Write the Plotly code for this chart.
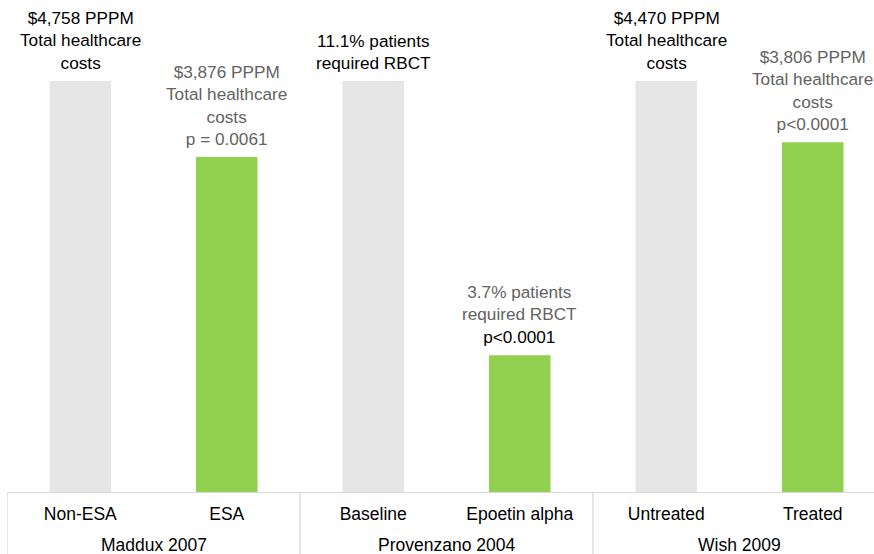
import plotly.graph_objects as go

# Data (bar heights relative to each study's comparator = 100)
categories = ["Non-ESA", "ESA", "Baseline", "Epoetin alpha", "Untreated", "Treated"]
groups = ["Maddux 2007", "Provenzano 2004", "Wish 2009"]
values = [100, 81.5, 100, 33.3, 100, 85.1]
bar_labels = [
    "$4,758 PPPM<br>Total healthcare<br>costs",
    "$3,876 PPPM<br>Total healthcare<br>costs<br>p = 0.0061",
    "11.1% patients<br>required RBCT",
    "3.7% patients<br>required RBCT<br><span style='color:#000000'>p<0.0001</span>",
    "$4,470 PPPM<br>Total healthcare<br>costs",
    "$3,806 PPPM<br>Total healthcare<br>costs<br>p<0.0001",
]

GREY = "#e6e6e6"
GREEN = "#92d050"
bar_colors = [GREY, GREEN, GREY, GREEN, GREY, GREEN]
label_colors = ["#000000", "#636363", "#000000", "#636363", "#000000", "#636363"]
LINE = "#d9d9d9"
FONT = "Liberation Sans, Arial, sans-serif"
FS_BAR = 17.2
FS_AX = 17.5

fig = go.Figure()
fig.add_trace(go.Bar(
    x=categories, y=values,
    marker=dict(color=bar_colors, line=dict(width=0)),
    width=0.42, hoverinfo="skip",
))

annotations = []
for c, v, t, col in zip(categories, values, bar_labels, label_colors):
    annotations.append(dict(
        x=c, y=v, xref="x", yref="y", text=t, showarrow=False,
        yanchor="bottom", xanchor="center", yshift=6,
        font=dict(size=FS_BAR, color=col, family=FONT),
    ))
for i, g in enumerate(groups):
    annotations.append(dict(
        x=2 * i + 0.5, y=-0.108, xref="x", yref="paper", text=g,
        showarrow=False, yanchor="middle", xanchor="center",
        font=dict(size=FS_AX, color="#000000", family=FONT),
    ))

shapes = []
for i in range(len(groups)):
    shapes.append(dict(
        type="line", xref="x", yref="paper",
        x0=2 * i - 0.5, x1=2 * i - 0.5, y0=0, y1=-0.2,
        line=dict(color=LINE, width=1.3),
    ))

fig.update_layout(
    width=874, height=554,
    margin=dict(l=7, r=0, t=0, b=62),
    paper_bgcolor="white", plot_bgcolor="white",
    showlegend=False,
    bargap=0.58,
    xaxis=dict(
        range=[-0.5, 5.418], showgrid=False, zeroline=False,
        showline=True, linecolor=LINE, linewidth=1.3,
        ticks="", tickfont=dict(size=FS_AX, color="#000000", family=FONT),
        ticklabelstandoff=6,
    ),
    yaxis=dict(
        range=[0, 119.7], visible=False, showgrid=False, zeroline=False,
    ),
    annotations=annotations,
    shapes=shapes,
)

fig.write_html(
    "out.html",
    config={"displayModeBar": False},
    post_script="document.body.style.margin='0';document.body.style.overflow='hidden';",
)
